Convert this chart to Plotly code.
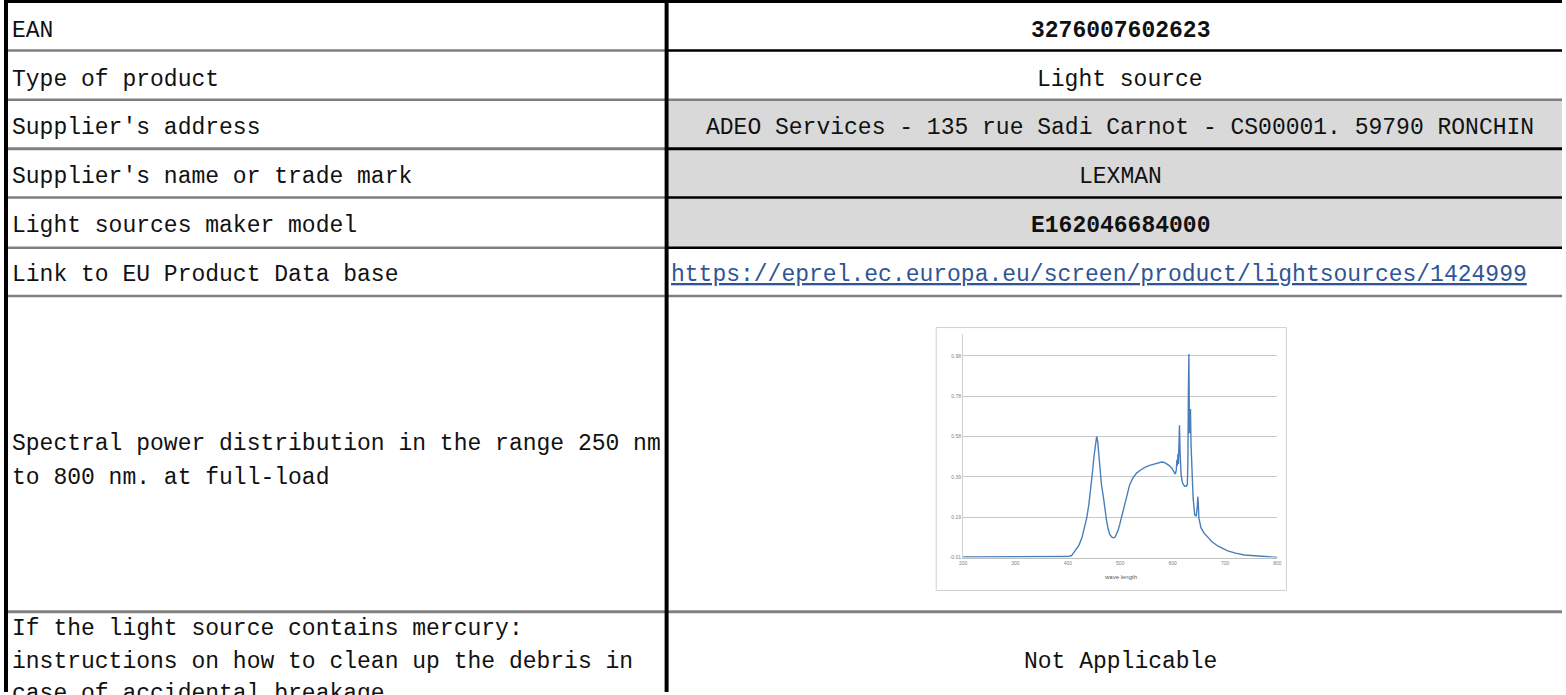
import plotly.graph_objects as go

W, H = 1566, 695

# ---- table content ----
row_labels = ["EAN", "Type of product", "Supplier's address", "Supplier's name or trade mark",
              "Light sources maker model", "Link to EU Product Data base"]
row_values = ["<b>3276007602623</b>", "Light source",
              "ADEO Services - 135 rue Sadi Carnot - CS00001. 59790 RONCHIN",
              "LEXMAN", "<b>E162046684000</b>", None]
link_text = "https://eprel.ec.europa.eu/screen/product/lightsources/1424999"
spectral_label = ["Spectral power distribution in the range 250 nm", "to 800 nm. at full-load"]
mercury_label = ["If the light source contains mercury:",
                 "instructions on how to clean up the debris in",
                 "case of accidental breakage"]
mercury_value = "Not Applicable"

# ---- spectral chart data ----
wavelength = [200, 250, 300, 350, 378, 381, 384, 400, 407, 414, 421, 427, 432, 436, 440, 444, 447,
              450, 453, 455, 457, 459, 461, 464, 468, 471, 474, 477, 480, 484, 487, 490, 493, 496,
              499, 504, 509, 514, 518, 524, 531, 539, 547, 556, 566, 573, 579, 584, 588, 593, 598,
              602, 605, 607, 608, 609, 610, 611, 612, 613, 614, 615, 616, 618, 620, 623, 626, 628,
              629, 630, 631, 632, 633, 634, 635, 636, 637, 639, 642, 645, 647, 648, 649, 650, 652,
              654, 660, 667, 675, 686, 695, 705, 720, 737, 750, 768, 785, 800]
power = [-0.007, -0.007, -0.007, -0.007, -0.007, -0.004, -0.007, -0.005, 0.0, 0.023, 0.05, 0.088,
         0.135, 0.185, 0.25, 0.33, 0.41, 0.49, 0.57, 0.585, 0.56, 0.50, 0.43, 0.35, 0.283, 0.22,
         0.169, 0.13, 0.104, 0.09, 0.087, 0.09, 0.104, 0.125, 0.153, 0.205, 0.259, 0.31, 0.348,
         0.38, 0.405, 0.42, 0.433, 0.443, 0.451, 0.456, 0.459, 0.457, 0.451, 0.443, 0.43, 0.415,
         0.40, 0.42, 0.47, 0.44, 0.50, 0.45, 0.56, 0.64, 0.52, 0.44, 0.40, 0.365, 0.35, 0.34,
         0.34, 0.35, 0.45, 0.80, 0.99, 0.60, 0.70, 0.72, 0.55, 0.48, 0.40, 0.283, 0.20, 0.193,
         0.24, 0.29, 0.25, 0.185, 0.16, 0.137, 0.11, 0.088, 0.068, 0.047, 0.034, 0.023, 0.012,
         0.003, 0.0, -0.003, -0.006, -0.009]
y_tick_vals = [-0.01, 0.188, 0.386, 0.584, 0.782, 0.98]
y_tick_text = ["-0.01", "0.19", "0.39", "0.58", "0.78", "0.98"]
x_tick_vals = [200, 300, 400, 500, 600, 700, 800]


def px(x):
    return x / W


def py(y):
    return 1 - y / H


FONT = "Liberation Mono"
BLACK = "#000000"
GRAY = "#808080"

fig = go.Figure()
fig.add_trace(go.Scatter(x=wavelength, y=power, mode="lines",
                         line=dict(color="#4a7ebb", width=1.4), showlegend=False,
                         hoverinfo="skip"))

shapes = []


def rect(x0, y0, x1, y1, color, layer="above"):
    shapes.append(dict(type="rect", xref="paper", yref="paper", x0=px(x0), x1=px(x1),
                       y0=py(y1), y1=py(y0), fillcolor=color, line=dict(width=0), layer=layer))


# gray fills (right column rows 3-5)
rect(668, 100, W, 249, "#d9d9d9", layer="below")

# horizontal rules: (y0, y1, left color, right color)
rules = [(0, 3, BLACK, BLACK), (49.5, 52, GRAY, BLACK), (99, 101.5, GRAY, GRAY),
         (148, 151, GRAY, BLACK), (197, 199.5, GRAY, BLACK), (247.5, 250, GRAY, BLACK),
         (296, 298.5, GRAY, GRAY), (613, 616, GRAY, GRAY)]
for y0, y1, cl, cr in rules:
    rect(0, y0, 666, y1, cl)
    rect(666, y0, W, y1, cr)

# vertical borders
rect(0, 0, 4, H, BLACK)
rect(664, 0, 668, H, BLACK)

# embedded chart frame
shapes.append(dict(type="rect", xref="paper", yref="paper", x0=px(937), x1=px(1289),
                   y0=py(593), y1=py(329), line=dict(color="#d0d0d0", width=1),
                   fillcolor="rgba(0,0,0,0)", layer="below"))

annotations = []


def text(x, y, s, anchor="left", color="#111111", size=23):
    annotations.append(dict(x=px(x), y=py(y), xref="paper", yref="paper", text=s,
                            showarrow=False, xanchor=anchor, yanchor="middle",
                            font=dict(family=FONT, size=size, color=color)))


row_centers = [31, 80, 129, 178, 227, 276]
for yc, lab, val in zip(row_centers, row_labels, row_values):
    text(6, yc, lab)
    if val is not None:
        text(1122, yc, val, anchor="center")
text(668, 276, "<u>" + link_text + "</u>", color="#2f5597")

for yc, lab in zip([446, 480], spectral_label):
    text(6, yc, lab)
for yc, lab in zip([632, 665, 697], mercury_label):
    text(6, yc, lab)
text(1122, 665, mercury_value, anchor="center")

# chart axis title
annotations.append(dict(x=px(1122), y=py(580), xref="paper", yref="paper", text="wave length",
                        showarrow=False, xanchor="center", yanchor="middle",
                        font=dict(family="Liberation Sans", size=6, color="#595959")))

fig.update_layout(
    width=W, height=H, margin=dict(l=0, r=0, t=0, b=0),
    paper_bgcolor="white", plot_bgcolor="rgba(0,0,0,0)",
    shapes=shapes, annotations=annotations, showlegend=False,
    xaxis=dict(domain=[px(964), px(1280)], range=[200, 800], tickvals=x_tick_vals,
               showgrid=False, zeroline=False, showline=True, linecolor="#bfbfbf",
               ticks="", tickfont=dict(family="Liberation Sans", size=5, color="#7f7f7f"),
               fixedrange=True),
    yaxis=dict(domain=[py(560), py(335)], range=[-0.01, 1.09], tickvals=y_tick_vals,
               ticktext=y_tick_text, showgrid=True, gridcolor="#c8c8c8", gridwidth=1,
               zeroline=False, showline=True, linecolor="#d0d0d0", ticks="",
               tickfont=dict(family="Liberation Sans", size=5, color="#7f7f7f"),
               fixedrange=True),
)

fig.write_html("out.html", config={"displayModeBar": False},
               post_script="document.body.style.margin='0';document.body.style.overflow='hidden';")
